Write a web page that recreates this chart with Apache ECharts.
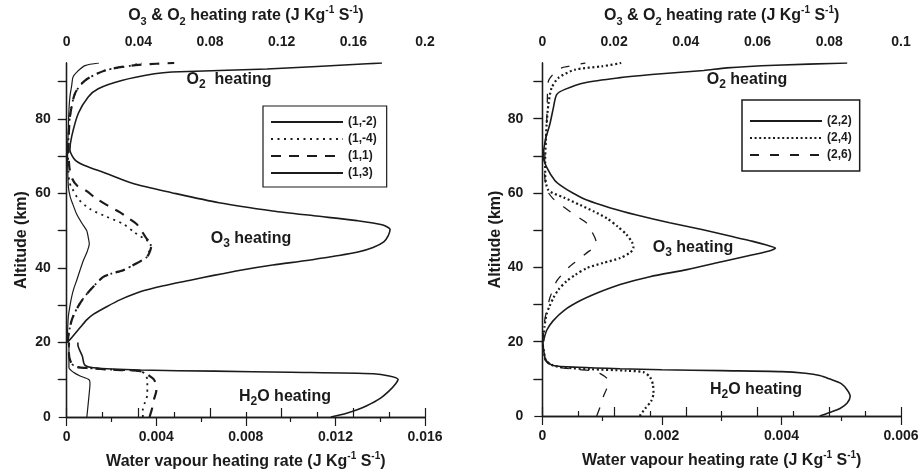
<!DOCTYPE html>
<html>
<head>
<meta charset="utf-8">
<script src="https://cdn.jsdelivr.net/npm/echarts@6/dist/echarts.min.js"></script>
<style>
  html, body { margin: 0; padding: 0; background: #fff; }
  #chart { width: 923px; height: 475px; }
</style>
</head>
<body>
<div id="chart"></div>
<script>
// Heating-rate profiles: each pair is [rate (J Kg-1 S-1), altitude (km)].
// Water-vapour parts use the bottom axis, O3/O2 parts use the top axis.

// ---- Panel 1 : cases (1,-2) (1,-4) (1,1) (1,3) ----
const h2o_1m2 = [[0.0118,0],[0.0125,1],[0.0130,2],[0.0134,3],[0.0140,5],[0.0144,7],[0.0147,9],[0.0148,10.1],[0.0144,11],[0.0137,11.6],[0.0100,12.0],[0.0066,12.3],[0.0033,12.6],[0.0012,13.2],[0.0008,14],[0.0007,16.3],[0.0005,19.4],[0.0005,20]];
const h2o_1m4 = [[0.0034,0],[0.0034,2],[0.0035,4],[0.0036,6],[0.0036,8.3],[0.0036,10],[0.0035,11.5],[0.0033,12.3],[0.0020,12.7],[0.0010,13.1],[0.0004,13.5],[0.0002,14.5],[0.0001,17],[0.0001,20]];
const h2o_1p1 = [[0.0037,0],[0.0038,2],[0.0039,4.8],[0.0040,7],[0.0040,8.3],[0.0039,10],[0.0037,11],[0.0034,12.2],[0.0020,12.7],[0.0010,13.1],[0.0004,13.5],[0.0002,14.5],[0.0001,17],[0.0001,20]];
const h2o_1p3 = [[0.0009,0],[0.00095,3],[0.0010,6],[0.00104,9],[0.0010,10],[0.0006,11],[0.0003,12],[0.0001,13.3],[0.0001,17],[0.0001,20]];

const o3_1m2 = [[0.001,20.3],[0.004,22],[0.0075,24],[0.011,26],[0.015,27.6],[0.0223,29.6],[0.030,31.5],[0.041,33.6],[0.054,35.2],[0.069,36.7],[0.082,38],[0.097,39.4],[0.115,40.8],[0.134,42],[0.150,43.2],[0.162,44.2],[0.171,45.5],[0.177,47],[0.1795,48.7],[0.1805,50.3],[0.176,51.6],[0.162,52.7],[0.138,54],[0.115,55.3],[0.085,57.5],[0.0586,60.2],[0.038,62.5],[0.0214,65.5],[0.010,67.5],[0.0046,69],[0.0018,71.7],[0.0028,75.3],[0.0065,81.5],[0.012,85.9],[0.0176,88.1],[0.0307,90.3],[0.049,92.1],[0.0586,92.6],[0.1118,93.4],[0.1676,94.8],[0.176,95]];
const o3_1m4 = [[0.0006,20],[0.001,22],[0.0018,24],[0.0028,26],[0.0045,28],[0.0074,30.5],[0.010,32.3],[0.013,34],[0.0165,35.8],[0.0204,37.6],[0.025,38.5],[0.0316,39.4],[0.038,41],[0.0447,42.9],[0.046,44.5],[0.047,46.5],[0.045,47.3],[0.038,49.5],[0.0316,51.8],[0.022,53.8],[0.013,55.8],[0.0065,58.5],[0.003,61.4],[0.0015,63],[0.001,66],[0.0008,70],[0.001,75],[0.0018,80.6],[0.0046,86.8],[0.0102,90.3],[0.0214,93],[0.036,94.3],[0.042,95]];
const o3_1p1 = [[0.0006,20],[0.001,22],[0.0018,24],[0.0028,26],[0.0045,28],[0.0074,30.5],[0.010,32.3],[0.013,34],[0.0165,35.8],[0.0204,37.6],[0.025,38.5],[0.0316,39.4],[0.038,41],[0.0447,42.9],[0.0465,44.5],[0.0474,46.5],[0.0447,47.8],[0.042,49.8],[0.039,51.8],[0.034,53.5],[0.0298,54.9],[0.022,57],[0.016,58.8],[0.0112,60.6],[0.006,62],[0.003,64],[0.0015,67],[0.001,72],[0.0012,76],[0.0018,80.6],[0.0046,86.8],[0.0102,90.3],[0.0214,93],[0.036,94.3],[0.05,94.8],[0.06,95]];
const o3_1p3 = [[0.0003,20],[0.0005,23],[0.0009,26.9],[0.0017,29.5],[0.0028,32.3],[0.004,34.5],[0.0056,36.7],[0.0075,39.5],[0.0093,42],[0.0115,44.5],[0.0126,46.5],[0.012,48.3],[0.0112,50],[0.0085,52],[0.0056,54.4],[0.0035,57],[0.002,59],[0.001,61.5],[0.0006,66],[0.0005,72],[0.0009,77],[0.0012,82],[0.0018,86],[0.0028,89],[0.0035,91.2],[0.0055,92.5],[0.0102,94.3],[0.018,95]];

// ---- Panel 2 : cases (2,2) (2,4) (2,6) ----
const h2o_2p2 = [[0.00464,0],[0.00482,1],[0.00498,2],[0.0051,3.5],[0.00515,5.3],[0.0051,7],[0.0050,8.7],[0.0048,10],[0.00464,10.9],[0.0044,11.5],[0.0040,11.95],[0.0030,12.2],[0.0020,12.45],[0.0013,12.7],[0.0006,13.1],[0.00018,13.6],[0.00006,15],[0.00002,18],[0.00001,20]];
const h2o_2p4 = [[0.00163,0],[0.00172,2],[0.00182,4],[0.00186,6.1],[0.00185,8.5],[0.0018,10.5],[0.00169,11.8],[0.0014,12.2],[0.0008,12.6],[0.0004,13],[0.00018,13.6],[0.00006,15],[0.00002,18],[0,20]];
const h2o_2p6 = [[0.00091,0],[0.00098,3],[0.00102,5.2],[0.00108,7.5],[0.0011,9.6],[0.00097,11.4],[0.0008,12.2],[0.0006,12.5],[0.0003,13],[0.00015,13.6],[0.00005,15],[0.00002,18],[0,20]];

const o3_2p2 = [[0.0003,20],[0.0012,23],[0.003,25.6],[0.0062,28.5],[0.0105,31],[0.0158,33.3],[0.0217,35.4],[0.030,37.5],[0.0403,39.4],[0.050,41.5],[0.0587,43.4],[0.0635,44.5],[0.065,45.2],[0.0625,46],[0.0587,47],[0.052,48.5],[0.0448,50.1],[0.0355,52],[0.0263,54.1],[0.019,56],[0.0124,58.1],[0.0085,60],[0.0055,61.8],[0.0035,63.4],[0.0012,67],[0.0003,69.7],[0.0008,74.1],[0.0021,78.5],[0.0031,83],[0.004,86.5],[0.0063,87.9],[0.0119,89.7],[0.0212,91],[0.0305,91.9],[0.045,93],[0.0514,93.7],[0.065,94.4],[0.085,95]];
const o3_2p4 = [[0.0002,20],[0.0006,24],[0.0012,27.4],[0.002,29.5],[0.0031,31.8],[0.0045,34],[0.0068,36.3],[0.0092,38],[0.0124,39.8],[0.017,41.2],[0.0217,42.5],[0.0245,44],[0.0254,45.2],[0.025,46.8],[0.0235,48.8],[0.021,51],[0.018,53.2],[0.0145,55],[0.0105,56.8],[0.006,58.8],[0.0017,60.8],[0.0008,65],[0.0008,69.7],[0.001,74],[0.0012,78.5],[0.0017,83.9],[0.0026,88.3],[0.0045,91],[0.0091,93.2],[0.0166,94.1],[0.022,95]];
const o3_2p6 = [[0.0002,20],[0.0004,23.5],[0.0008,26.5],[0.0014,29],[0.0021,31.8],[0.003,34],[0.004,36.3],[0.0057,38.3],[0.0077,40.3],[0.010,42],[0.0124,43.9],[0.0145,45.5],[0.015,46.8],[0.0147,47.9],[0.0136,50],[0.0124,51.9],[0.0092,54],[0.0059,56.3],[0.003,58.5],[0.0012,61],[0.0006,66],[0.0008,72],[0.0012,78.5],[0.0014,85],[0.0017,90.1],[0.0035,92.5],[0.0054,93.7],[0.0073,94.1],[0.012,95]];

// Axis tick positions
const altLabels = [0, 20, 40, 60, 80];
const altTicks = [0, 10, 20, 30, 40, 50, 60, 70, 80, 90];
const altInnerTicks = [10, 20, 30, 40, 50, 60, 70, 80, 90];

const FONT = '"Liberation Sans", Arial, Helvetica, sans-serif';
const INK = '#1b1b1b';

const nameRich = {
  t: { fontSize: 16, fontWeight: 'bold', fontFamily: FONT, color: INK, lineHeight: 22, verticalAlign: 'middle' },
  s: { fontSize: 11, fontWeight: 'bold', fontFamily: FONT, color: INK, lineHeight: 12, verticalAlign: 'bottom' },
  p: { fontSize: 10, fontWeight: 'bold', fontFamily: FONT, color: INK, lineHeight: 12, verticalAlign: 'top' }
};
const topName = '{t|O}{s|3}{t| & O}{s|2}{t| heating rate (J Kg}{p|-1}{t| S}{p|-1}{t|)}';
const bottomName = '{t|Water vapour heating rate (J Kg}{p|-1}{t| S}{p|-1}{t|)}';

const axisLine = { show: true, lineStyle: { color: INK, width: 1.3 } };
const tickLabel = { fontSize: 14, fontWeight: 'bold', fontFamily: FONT, color: INK };

function rateAxis(grid, pos, max, interval, nameGap, labelMargin) {
  return {
    type: 'value', gridIndex: grid, position: pos, min: 0, max: max, interval: interval,
    axisLine: axisLine,
    axisTick: { show: true, inside: false, length: 9, lineStyle: { color: INK, width: 1.2 } },
    minorTick: { show: true, splitNumber: 2, length: 5, lineStyle: { color: INK, width: 1.2 } },
    axisLabel: Object.assign({ margin: labelMargin }, tickLabel),
    splitLine: { show: false }, minorSplitLine: { show: false },
    name: pos === 'top' ? topName : bottomName,
    nameLocation: 'middle', nameGap: nameGap,
    nameTextStyle: { rich: nameRich }
  };
}

function altAxisLeft(grid, labelMargin, nameGap) {
  return {
    type: 'value', gridIndex: grid, position: 'left', min: 0, max: 95, interval: 10,
    axisLine: axisLine,
    axisTick: { show: true, inside: false, length: 8, customValues: altTicks, lineStyle: { color: INK, width: 1.2 } },
    axisLabel: Object.assign({ margin: labelMargin, customValues: altLabels,
      formatter: v => (v % 20 === 0 ? String(v) : '') }, tickLabel),
    splitLine: { show: false },
    name: 'Altitude (km)', nameLocation: 'middle', nameGap: nameGap, nameRotate: 90,
    nameTextStyle: { fontSize: 16, fontWeight: 'bold', fontFamily: FONT, color: INK }
  };
}

function altAxisRight(grid) {
  return {
    type: 'value', gridIndex: grid, position: 'right', min: 0, max: 95, interval: 10,
    axisLine: axisLine,
    axisTick: { show: true, inside: true, length: 9, customValues: altInnerTicks, lineStyle: { color: INK, width: 1.2 } },
    axisLabel: { show: false },
    splitLine: { show: false }
  };
}

const styles = {
  '(1,-2)': { color: INK, width: 1.6, type: 'solid' },
  '(1,-4)': { color: INK, width: 1.8, type: [2, 4.5] },
  '(1,1)':  { color: INK, width: 2.2, type: [10, 8] },
  '(1,3)':  { color: INK, width: 1.2, type: 'solid' },
  '(2,2)':  { color: INK, width: 1.6, type: 'solid' },
  '(2,4)':  { color: INK, width: 2.2, type: [2, 2.6] },
  '(2,6)':  { color: INK, width: 1.3, type: [9, 11] }
};

function line(name, data, xIdx, yIdx) {
  return {
    type: 'line', name: name, xAxisIndex: xIdx, yAxisIndex: yIdx, data: data,
    smooth: 0.25, showSymbol: false, symbol: 'none',
    itemStyle: { color: INK }, lineStyle: styles[name],
    emphasis: { disabled: true }, silent: true, z: 3
  };
}

const legendText = { fontSize: 12, fontWeight: 'bold', fontFamily: FONT, color: INK };
// legend shows only the line sample, no point marker
const legendMarker = { color: 'rgba(0,0,0,0)', borderColor: 'rgba(0,0,0,0)', borderWidth: 0 };

function subLabel(x, y, parts) {
  return {
    type: 'text', x: x, y: y, z: 10,
    style: {
      text: parts, align: 'center', verticalAlign: 'middle',
      rich: {
        a: { fontSize: 16, fontWeight: 'bold', fontFamily: FONT, fill: INK, lineHeight: 22, verticalAlign: 'middle' },
        b: { fontSize: 12, fontWeight: 'bold', fontFamily: FONT, fill: INK, lineHeight: 12, verticalAlign: 'bottom' }
      }
    }
  };
}

const chart = echarts.init(document.getElementById('chart'), null, { renderer: 'canvas' });
chart.setOption({
  animation: false,
  backgroundColor: '#ffffff',
  grid: [
    { left: 66.7, right: 498, top: 60, bottom: 57 },
    { left: 542.3, right: 22, top: 60, bottom: 59 }
  ],
  xAxis: [
    rateAxis(0, 'bottom', 0.016, 0.004, 34, 13),
    rateAxis(0, 'top', 0.2, 0.04, 36, 14),
    rateAxis(1, 'bottom', 0.006, 0.002, 34, 13),
    rateAxis(1, 'top', 0.1, 0.02, 36, 14)
  ],
  yAxis: [
    altAxisLeft(0, 16, 37),
    altAxisRight(0),
    altAxisLeft(1, 19, 39),
    altAxisRight(1)
  ],
  legend: [
    {
      data: ['(1,-2)', '(1,-4)', '(1,1)', '(1,3)'],
      orient: 'vertical', left: 263, top: 106, itemWidth: 72, itemHeight: 14, itemGap: 5,
      padding: [10, 10, 8, 7], borderColor: INK, borderWidth: 1.2,
      textStyle: legendText, selectedMode: false, itemStyle: legendMarker
    },
    {
      data: ['(2,2)', '(2,4)', '(2,6)'],
      orient: 'vertical', left: 742, top: 100, itemWidth: 72, itemHeight: 12, itemGap: 5,
      padding: [15, 8, 10, 7], borderColor: INK, borderWidth: 1.5,
      textStyle: legendText, selectedMode: false, itemStyle: legendMarker
    }
  ],
  graphic: [
    subLabel(229, 80, '{a|O}{b|2}{a|  heating}'),
    subLabel(251, 239, '{a|O}{b|3}{a| heating}'),
    subLabel(285, 397, '{a|H}{b|2}{a|O heating}'),
    subLabel(747, 80, '{a|O}{b|2}{a| heating}'),
    subLabel(693, 248, '{a|O}{b|3}{a| heating}'),
    subLabel(756, 390, '{a|H}{b|2}{a|O heating}')
  ],
  series: [
    line('(1,-2)', h2o_1m2, 0, 0),
    line('(1,-4)', h2o_1m4, 0, 0),
    line('(1,1)', h2o_1p1, 0, 0),
    line('(1,3)', h2o_1p3, 0, 0),
    line('(1,-2)', o3_1m2, 1, 0),
    line('(1,-4)', o3_1m4, 1, 0),
    line('(1,1)', o3_1p1, 1, 0),
    line('(1,3)', o3_1p3, 1, 0),
    line('(2,2)', h2o_2p2, 2, 2),
    line('(2,4)', h2o_2p4, 2, 2),
    line('(2,6)', h2o_2p6, 2, 2),
    line('(2,2)', o3_2p2, 3, 2),
    line('(2,4)', o3_2p4, 3, 2),
    line('(2,6)', o3_2p6, 3, 2)
  ]
});
</script>
</body>
</html>
